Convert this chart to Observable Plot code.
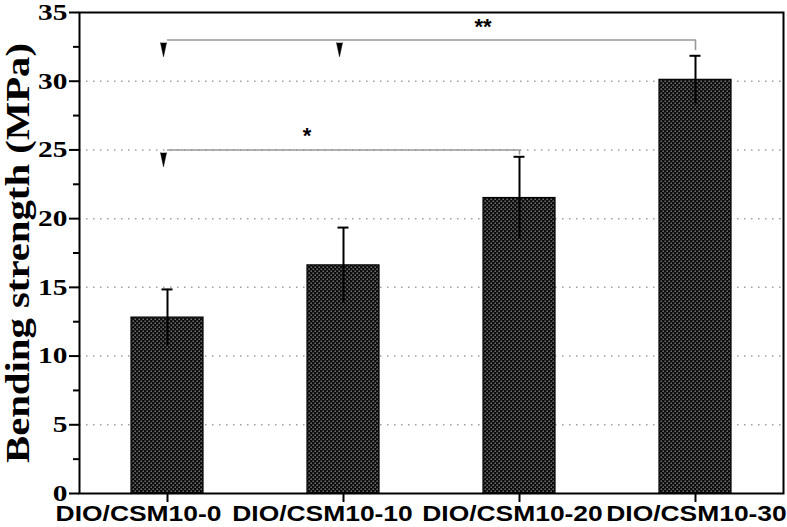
<!DOCTYPE html>
<html>
<head>
<meta charset="utf-8">
<script src="https://cdn.jsdelivr.net/npm/d3@7"></script>
<script src="https://cdn.jsdelivr.net/npm/@observablehq/plot@0.6"></script>
<style>
  html, body { margin: 0; padding: 0; background: #fff; }
  #chart svg { display: block; }
</style>
</head>
<body>
<div id="chart"></div>
<script>
const categories = ["DIO/CSM10-0", "DIO/CSM10-10", "DIO/CSM10-20", "DIO/CSM10-30"];
const means = [12.8, 16.6, 21.5, 30.1];
const errors = [2.05, 2.75, 3.0, 1.75];
const yTicks = [0, 5, 10, 15, 20, 25, 30, 35];
const yMinorTicks = [2.5, 7.5, 12.5, 17.5, 22.5, 27.5, 32.5];
const gridValues = [5, 10, 15, 20, 25, 30];
const yLabel = "Bending strength (MPa)";

// significance brackets
const bracketTop = [
  {x: categories[0], y: 33}, {x: categories[3], y: 33}, {x: categories[3], y: 32.3}
];
const bracketLow = [
  {x: categories[0], y: 25}, {x: categories[2], y: 25}, {x: categories[2], y: 24.7}
];
const arrowMarks = [
  {x: categories[0], y: 32.8}, {x: categories[1], y: 32.8}, {x: categories[0], y: 24.8}
];
const starLabels = [
  {x: categories[2], y: 33.9, text: "**", dx: 6},
  {x: categories[1], y: 26.0, text: "*", dx: -49}
];

const data = categories.map((c, i) => ({name: c, value: means[i], lo: means[i] - errors[i], hi: means[i] + errors[i]}));

const chart = Plot.plot({
  width: 787,
  height: 527,
  marginLeft: 79,
  marginRight: 4,
  marginTop: 12,
  marginBottom: 34,
  style: {background: "#fff", color: "#000"},
  x: {domain: categories, paddingInner: 0.59, paddingOuter: 0.295, label: null},
  y: {domain: [0, 35], label: null},
  marks: [
    Plot.gridY(gridValues, {stroke: "#a0a0a0", strokeOpacity: 1, strokeWidth: 1.5, strokeDasharray: "1.5,5.5"}),
    Plot.barY(data, {x: "name", y: "value", fill: "url(#chk)", stroke: "#000", strokeWidth: 1.2}),
    Plot.ruleX(data, {x: "name", y1: "lo", y2: "hi", stroke: "#000", strokeWidth: 2}),
    Plot.tickY(data, {x: "name", y: "hi", stroke: "#000", strokeWidth: 2, insetLeft: 30.5, insetRight: 30.5}),
    Plot.line(bracketTop, {x: "x", y: "y", stroke: "#999", strokeWidth: 1.6}),
    Plot.line(bracketLow, {x: "x", y: "y", stroke: "#999", strokeWidth: 1.6}),
    Plot.vector(arrowMarks, {x: "x", y: "y", length: 14, rotate: 180, shape: "spike", anchor: "start", r: 3, fill: "#000", stroke: "#000", strokeWidth: 0.5, dx: -4}),
    Plot.text(starLabels, {x: "x", y: "y", text: "text", dx: "dx", fontSize: 22, fontWeight: "bold", fontFamily: "Liberation Sans, Arial, sans-serif", lineAnchor: "middle"}),
    Plot.axisY(yMinorTicks, {tickSize: 6, text: null, strokeWidth: 2, label: null}),
    Plot.axisY(yTicks, {tickSize: 10, tickPadding: 2, strokeWidth: 2, fontSize: 23, fontWeight: "bold", fontFamily: "Liberation Serif, Times New Roman, serif", label: null}),
    Plot.axisX({tickSize: 9, tickPadding: 3, strokeWidth: 2, fontSize: 22, fontWeight: "bold", fontFamily: "Liberation Sans, Arial, sans-serif", label: null}),
    Plot.frame({stroke: "#000", strokeWidth: 2}),
    Plot.text([yLabel], {frameAnchor: "left", textAnchor: "middle", rotate: -90, dx: -61, fontSize: 33, fontWeight: "bold", fontFamily: "Liberation Serif, Times New Roman, serif", lineAnchor: "middle"})
  ]
});

chart.insertAdjacentHTML("afterbegin",
  '<defs><pattern id="chk" patternUnits="userSpaceOnUse" width="4" height="4">' +
  '<rect width="4" height="4" fill="#0c0c0c"/>' +
  '<rect x="0.5" y="0.5" width="1.4" height="1.4" fill="#808080"/>' +
  '<rect x="2.5" y="2.5" width="1.4" height="1.4" fill="#808080"/>' +
  '</pattern></defs>');

document.getElementById("chart").appendChild(chart);

// typographic adjustments to mimic the reference's wide glyphs
const yTickStrings = yTicks.map(String);
const xNudge = {"DIO/CSM10-0": -29, "DIO/CSM10-10": -21, "DIO/CSM10-20": -7, "DIO/CSM10-30": 1};
for (const t of chart.querySelectorAll("text")) {
  const s = t.textContent;
  if (s === yLabel) {
    t.setAttribute("textLength", "420");
    t.setAttribute("lengthAdjust", "spacingAndGlyphs");
  } else if (yTickStrings.includes(s)) {
    const w = t.getComputedTextLength();
    t.setAttribute("textLength", (w * 1.28).toFixed(1));
    t.setAttribute("lengthAdjust", "spacingAndGlyphs");
  } else if (categories.includes(s)) {
    const w = t.getComputedTextLength();
    t.setAttribute("textLength", (w * 1.2).toFixed(1));
    t.setAttribute("lengthAdjust", "spacingAndGlyphs");
    t.setAttribute("dx", xNudge[s]);
  }
}
</script>
</body>
</html>
